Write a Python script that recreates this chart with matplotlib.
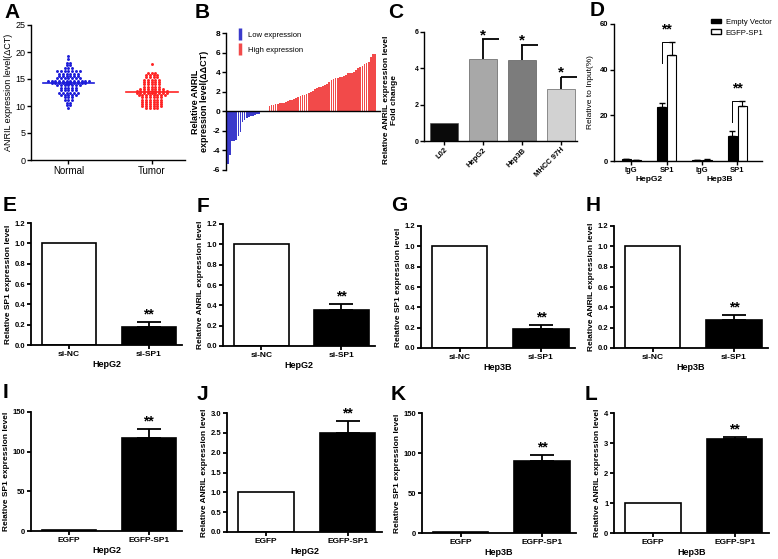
import matplotlib
matplotlib.use('Agg')
import matplotlib.pyplot as plt
from matplotlib.lines import Line2D
from matplotlib.patches import Patch
import matplotlib.transforms as mtrans
import numpy as np

plt.rcParams['font.family'] = ['Liberation Sans', 'DejaVu Sans']

# ---- data ----
# A: dot plot, rows of (value, number of samples at that level)
a_labels = ['Normal', 'Tumor']
a_normal_rows = [(19.2, 1), (18.7, 1), (18.0, 2), (17.6, 2), (17.0, 3), (16.4, 7), (16.0, 6),
                 (15.6, 6), (15.2, 7), (14.6, 12), (14.2, 10), (13.8, 7), (13.4, 5), (13.0, 5),
                 (12.4, 6), (12.0, 5), (11.6, 3), (11.2, 3), (10.6, 2), (10.2, 2), (9.6, 1)]
a_tumor_rows = [(17.8, 1), (16.2, 3), (15.8, 4), (15.3, 4), (14.8, 5), (14.4, 5), (14.0, 5),
                (13.6, 5), (13.2, 7), (12.8, 9), (12.4, 9), (12.0, 8), (11.6, 6), (11.2, 6),
                (10.8, 6), (10.4, 6), (10.0, 6), (9.7, 4)]
a_ticks = [0, 5, 10, 15, 20, 25]

# B: waterfall of relative ANRIL level
b_low = [-5.4, -4.5, -3.0, -3.0, -2.9, -2.5, -2.1, -1.1, -0.9, -0.7, -0.6, -0.5, -0.5, -0.4, -0.3, -0.3]
b_high = [0.5, 0.6, 0.6, 0.7, 0.7, 0.8, 0.8, 0.8, 0.9, 1.1, 1.2, 1.2, 1.3, 1.4, 1.5, 1.6, 1.7, 1.7,
          1.8, 1.9, 2.0, 2.1, 2.3, 2.4, 2.5, 2.5, 2.6, 2.7, 2.8, 3.0, 3.2, 3.3, 3.4, 3.4, 3.5, 3.5,
          3.6, 3.7, 3.9, 3.9, 3.9, 4.0, 4.2, 4.4, 4.5, 4.6, 4.8, 4.9, 5.0, 5.5, 5.9, 5.9]
b_ticks = [-6, -4, -2, 0, 2, 4, 6, 8]

# C: cell lines
c_labels = ['L02', 'HepG2', 'Hep3B', 'MHCC 97H']
c_vals = [1.0, 4.5, 4.45, 2.85]
c_err = [0.0, 1.1, 0.85, 0.7]
c_ticks = [0, 2, 4, 6]

# D: ChIP
d_labels = ['IgG', 'SP1', 'IgG', 'SP1']
d_cells = ['HepG2', 'Hep3B']
d_empty = [0.8, 23.8, 0.5, 11.0]
d_empty_err = [0.2, 1.8, 0.1, 2.0]
d_sp1 = [0.5, 46.5, 0.5, 24.3]
d_sp1_err = [0.1, 5.5, 0.2, 1.8]
d_ticks = [0, 20, 40, 60]

# E-L
si_labels = ['si-NC', 'si-SP1']
oe_labels = ['EGFP', 'EGFP-SP1']
si_ticks = [0.0, 0.2, 0.4, 0.6, 0.8, 1.0, 1.2]
e_vals, e_err = [1.0, 0.18], [0, 0.05]
f_vals, f_err = [1.0, 0.35], [0, 0.06]
g_vals, g_err = [1.0, 0.19], [0, 0.04]
h_vals, h_err = [1.0, 0.28], [0, 0.045]
i_vals, i_err = [0.8, 117], [0, 12]
j_vals, j_err = [1.0, 2.5], [0, 0.29]
k_vals, k_err = [0.8, 90], [0, 8]
l_vals, l_err = [1.0, 3.14], [0, 0.06]
ik_ticks = [0, 50, 100, 150]
j_ticks = [0.0, 0.5, 1.0, 1.5, 2.0, 2.5, 3.0]
l_ticks = [0, 1, 2, 3, 4]

W, H = 778, 559
fig = plt.figure(figsize=(W / 100, H / 100), dpi=100)


def box(l, t, r, b):
    return fig.add_axes([l / W, 1 - b / H, (r - l) / W, (b - t) / H])


def clean(ax, lw=1.0):
    ax.spines['top'].set_visible(False)
    ax.spines['right'].set_visible(False)
    ax.spines['left'].set_linewidth(lw)
    ax.spines['bottom'].set_linewidth(lw)
    ax.tick_params(length=3, width=lw, pad=1)


def letter(x, y, s):
    fig.text(x / W, 1 - y / H, s, fontsize=15, fontweight='bold', va='center', ha='left')


# A
ax = box(31, 25, 185, 160)
clean(ax, 1.0)
for i, (rows, col) in enumerate([(a_normal_rows, '#1c1cd9'), (a_tumor_rows, '#ff2424')]):
    xs, ys = [], []
    for v, n in rows:
        xs += list(i + (np.arange(n) - (n - 1) / 2) * 0.045)
        ys += [v] * n
    ax.scatter(xs, ys, s=4.5, color=col, marker='o', linewidths=0, zorder=2)
    m = np.mean(ys)
    sem = np.std(ys) / np.sqrt(len(ys))
    ax.plot([i - 0.31, i + 0.31], [m, m], color=col, lw=1.2, zorder=3)
    ax.errorbar(i, m, yerr=sem, fmt='none', ecolor=col, elinewidth=0.8, capsize=3, zorder=3)
ax.set_xlim(-0.45, 1.4)
ax.set_ylim(0, 25)
ax.set_yticks(a_ticks)
ax.set_xticks([0, 1])
ax.set_xticklabels(a_labels, fontsize=7)
ax.tick_params(axis='y', labelsize=6.5)
ax.set_ylabel('ANRIL expression level(ΔCT)', fontsize=6.5, labelpad=2)
letter(4, 12, 'A')

# B
ax = box(226, 33, 380, 170)
clean(ax, 1.0)
gap = 4
xl = np.arange(len(b_low))
xh = np.arange(len(b_high)) + len(b_low) + gap
ax.bar(xl, b_low, width=0.85, color='#3a3acb', lw=0)
ax.bar(xh, b_high, width=0.85, color='#f24a4a', lw=0)
ax.spines['bottom'].set_position(('data', 0))
ax.set_xticks([])
ax.set_xlim(-1, xh[-1] + 2.5)
ax.set_ylim(-6, 8)
ax.set_yticks(b_ticks)
ax.set_yticklabels([str(t) for t in b_ticks], fontsize=6, fontweight='bold')
ax.set_ylabel('Relative ANRIL\nexpression level(ΔΔCT)', fontsize=6.5, fontweight='bold',
              linespacing=1.0, labelpad=3)
hs = [Line2D([], [], marker='|', markersize=9, mew=2.5, ls='none', color='#3a3acb'),
      Line2D([], [], marker='|', markersize=9, mew=2.5, ls='none', color='#f24a4a')]
ax.legend(hs, ['Low expression', 'High expression'], loc='upper left', bbox_to_anchor=(0.02, 1.06),
          frameon=False, fontsize=5.5, handlelength=1.0, handletextpad=0.6, labelspacing=1.0)
letter(195, 12, 'B')

# C
ax = box(424, 32, 577, 141)
clean(ax, 1.0)
x = np.arange(len(c_vals))
ax.bar(x, c_vals, width=0.72, color=['#0a0a0a', '#a8a8a8', '#7c7c7c', '#d2d2d2'],
       edgecolor='#444444', lw=0.4, zorder=2)
tops = np.array(c_vals) + np.array(c_err)
ax.vlines(x[1:], np.array(c_vals[1:]), tops[1:], color='k', lw=1.3, zorder=3)
ax.hlines(tops[1:], x[1:] - 0.02, x[1:] + 0.4, color='k', lw=1.3, zorder=3)
for xi, t in zip(x[1:], tops[1:]):
    ax.text(xi, t - 0.15, '*', ha='center', va='bottom', fontsize=11, fontweight='bold')
ax.set_xlim(-0.51, 3.4)
ax.set_ylim(0, 6)
ax.set_yticks(c_ticks)
ax.set_yticklabels([str(t) for t in c_ticks], fontsize=5, fontweight='bold')
ax.set_xticks(x)
ax.set_xticklabels(c_labels, rotation=45, ha='right', rotation_mode='anchor', fontsize=5.5,
                   fontweight='bold')
ax.set_ylabel('Relative ANRIL expression level\nFold change', fontsize=6, fontweight='bold',
              linespacing=1.1, labelpad=4)
ax.yaxis.set_label_coords(-0.17, 0.38)
letter(388, 12, 'C')

# D
ax = box(614, 24, 762, 161)
clean(ax, 1.0)
x = np.arange(len(d_labels))
ax.bar(x - 0.145, d_empty, 0.26, color='k', edgecolor='k', lw=0.8, zorder=2)
ax.bar(x + 0.145, d_sp1, 0.26, color='white', edgecolor='k', lw=0.8, zorder=2)
ax.errorbar(x - 0.145, d_empty, yerr=[np.zeros(4), d_empty_err], fmt='none', ecolor='k',
            elinewidth=0.8, capsize=2.5, zorder=3)
ax.errorbar(x + 0.145, d_sp1, yerr=[np.zeros(4), d_sp1_err], fmt='none', ecolor='k',
            elinewidth=0.8, capsize=2.5, zorder=3)
for i in (1, 3):
    top = d_sp1[i] + d_sp1_err[i]
    ax.plot([i - 0.145, i - 0.145, i + 0.145, i + 0.145], [top - 9, top, top, top - 2],
            color='k', lw=0.7)
    ax.text(i, top + 2.5, '**', ha='center', va='bottom', fontsize=10, fontweight='bold')
ax.set_xlim(-0.49, 3.7)
ax.set_ylim(0, 60)
ax.set_yticks(d_ticks)
ax.set_yticklabels([str(t) for t in d_ticks], fontsize=5.5, fontweight='bold')
ax.set_xticks(x)
ax.set_xticklabels(d_labels, fontsize=5.5, fontweight='bold')
tr = mtrans.blended_transform_factory(ax.transData, ax.transAxes)
for j, name in enumerate(d_cells):
    ax.text(2 * j + 0.5, -0.11, name, transform=tr, ha='center', va='top', fontsize=6,
            fontweight='bold')
ax.set_ylabel('Relative to Input(%)', fontsize=6, labelpad=4)
fig.legend([Patch(facecolor='k', edgecolor='k'), Patch(facecolor='white', edgecolor='k')],
           ['Empty Vector', 'EGFP-SP1'], loc='upper left', bbox_to_anchor=(709 / W, 1 - 17 / H),
           frameon=False, fontsize=5.5, handlelength=1.4, handleheight=0.6, handletextpad=0.6,
           labelspacing=0.5, borderaxespad=0, borderpad=0.2)
letter(590, 11, 'D')


# E-L
def pair(px, vals, err, labels, ticks, fmt, ylabel, cell):
    ax = box(*px)
    clean(ax, 1.3)
    x = np.arange(2)
    ax.bar(x, vals, 0.68, color=['white', 'black'], edgecolor='k', lw=1.2, zorder=2)
    ax.errorbar(x[1], vals[1], yerr=[[0], [err[1]]], fmt='none', ecolor='k', elinewidth=1.3,
                capsize=8.5, capthick=1.3, zorder=3)
    ax.text(x[1], vals[1] + err[1] + ticks[-1] * 0.005, '**', ha='center', va='bottom',
            fontsize=10, fontweight='bold')
    ax.set_xlim(-0.48, 1.42)
    ax.set_ylim(0, ticks[-1])
    ax.set_yticks(ticks)
    ax.set_yticklabels([fmt.format(t) for t in ticks], fontsize=5.5, fontweight='bold')
    ax.set_xticks(x)
    ax.set_xticklabels(labels, fontsize=6, fontweight='bold')
    ax.set_ylabel(ylabel, fontsize=6, fontweight='bold', labelpad=2)
    ax.set_xlabel(cell, fontsize=6.5, fontweight='bold', labelpad=2)
    return ax


pair((31, 223, 182, 345), e_vals, e_err, si_labels, si_ticks, '{:.1f}',
     'Relative SP1 expression level', 'HepG2')
letter(3, 205, 'E')
pair((223, 224, 375, 346), f_vals, f_err, si_labels, si_ticks, '{:.1f}',
     'Relative ANRIL expression level', 'HepG2')
letter(197, 207, 'F')
pair((421, 226, 575, 348), g_vals, g_err, si_labels, si_ticks, '{:.1f}',
     'Relative SP1 expression level', 'Hep3B')
letter(391, 205, 'G')
pair((614, 226, 768, 348), h_vals, h_err, si_labels, si_ticks, '{:.1f}',
     'Relative ANRIL expression level', 'Hep3B')
letter(586, 205, 'H')
pair((31, 412, 182, 531), i_vals, i_err, oe_labels, ik_ticks, '{:d}',
     'Relative SP1 expression level', 'HepG2')
letter(3, 393, 'I')
pair((227, 413, 382, 532), j_vals, j_err, oe_labels, j_ticks, '{:.1f}',
     'Relative ANRIL expression level', 'HepG2')
letter(197, 395, 'J')
pair((422, 413, 576, 533), k_vals, k_err, oe_labels, ik_ticks, '{:d}',
     'Relative SP1 expression level', 'Hep3B')
letter(391, 395, 'K')
pair((614, 413, 769, 533), l_vals, l_err, oe_labels, l_ticks, '{:d}',
     'Relative ANRIL expression level', 'Hep3B')
letter(585, 394, 'L')

fig.savefig('out.png', dpi=100)
